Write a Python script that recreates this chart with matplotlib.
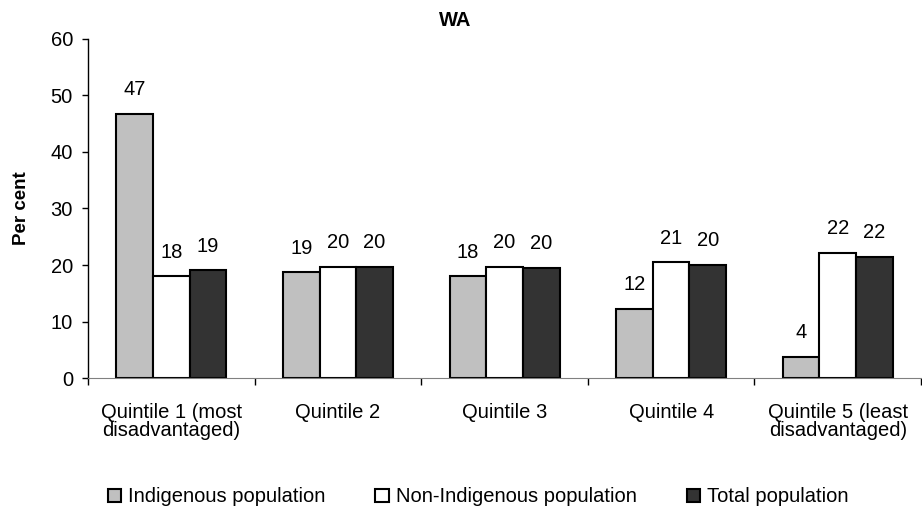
import numpy as np
import matplotlib.pyplot as plt

plt.rcParams['font.family'] = ['Liberation Sans', 'DejaVu Sans']

# Quintile categories and values (per cent)
categories = ['Quintile 1 (most\ndisadvantaged)', 'Quintile 2', 'Quintile 3',
              'Quintile 4', 'Quintile 5 (least\ndisadvantaged)']
indigenous = [46.7, 18.7, 18.0, 12.3, 3.8]
non_indigenous = [18.0, 19.7, 19.75, 20.5, 22.2]
total = [19.05, 19.7, 19.5, 20.1, 21.5]
indigenous_lbl = [47, 19, 18, 12, 4]
non_indigenous_lbl = [18, 20, 20, 21, 22]
total_lbl = [19, 20, 20, 20, 22]
series_names = ['Indigenous population', 'Non-Indigenous population', 'Total population']

fig = plt.figure(figsize=(9.22, 5.15), dpi=100)
ax = fig.add_axes([0.0954, 0.2654, 0.9036, 0.6595])

fs = 14.5
x = np.arange(len(categories))
w = 0.22
colors = ['#c0c0c0', '#ffffff', '#333333']
series = [indigenous, non_indigenous, total]
labels = [indigenous_lbl, non_indigenous_lbl, total_lbl]

for k, (vals, lbls, c, name) in enumerate(zip(series, labels, colors, series_names)):
    bars = ax.bar(x + (k - 1) * w, vals, w, color=c, edgecolor='black',
                  linewidth=1.5, label=name)
    ax.bar_label(bars, labels=[str(v) for v in lbls], padding=10.5, fontsize=fs)

ax.set_xlim(-0.5, len(categories) - 0.5)
ax.set_ylim(0, 60)
ax.set_yticks(range(0, 61, 10))
ax.tick_params(axis='y', labelsize=fs, length=4.3, width=1, pad=6.5, direction='out')

# tick marks between groups, labels centred under groups
ax.set_xticks(np.arange(-0.5, len(categories), 1.0))
ax.set_xticklabels([])
ax.tick_params(axis='x', which='major', length=5, width=1, color='black')
ax.set_xticks(x, minor=True)
ax.set_xticklabels(categories, minor=True, fontsize=fs, linespacing=0.95)
ax.tick_params(axis='x', which='minor', length=0, pad=17.5)

ax.spines['top'].set_visible(False)
ax.spines['right'].set_visible(False)
ax.spines['bottom'].set_color('#808080')
ax.spines['left'].set_linewidth(1)

fig.text(22 / 922, 0.5 * (0.2654 + 0.9249) + 0.0, 'Per cent', rotation=90,
         fontsize=13.5, fontweight='bold', ha='center', va='center')
fig.text(455 / 922, 1 - 21 / 515, 'WA', fontsize=14.5, fontweight='bold',
         ha='center', va='center')

fig.legend(loc='center', bbox_to_anchor=(478 / 922, 1 - 497 / 515), ncol=3,
           frameon=False, fontsize=fs, handlelength=0.65, handleheight=0.65,
           handletextpad=0.35, columnspacing=2.5, borderpad=0)

fig.savefig('out.png', dpi=100)
